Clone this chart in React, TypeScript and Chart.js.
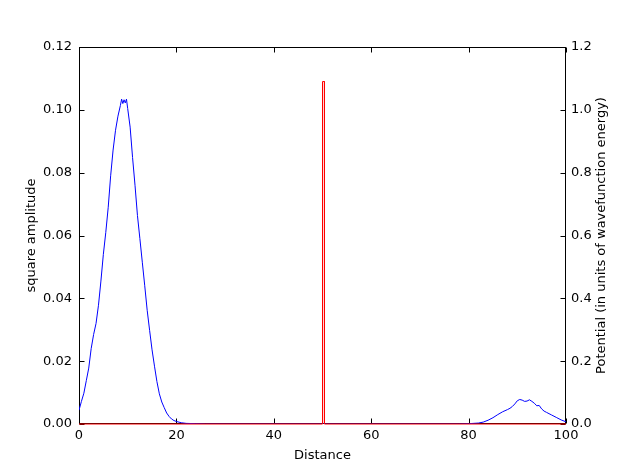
import React, { useEffect, useRef } from "react";
import { Chart, registerables } from "chart.js";
Chart.register(...registerables);

const packetX = [0, 0.5, 1, 1.5, 2, 2.5, 3, 3.5, 4, 4.5, 5, 5.5, 6, 6.5, 7, 7.5, 8, 8.5, 8.75, 9, 9.25, 9.5, 9.75, 10, 10.5, 11, 11.5, 12, 12.5, 13, 13.5, 14, 14.5, 15, 15.5, 16, 16.5, 17, 17.5, 18, 18.5, 19, 19.5, 20, 21, 22, 24, 26, 30, 40, 50, 60, 70, 78, 80, 82, 83, 84, 85, 86, 87, 88, 88.5, 89, 89.5, 90, 90.5, 91, 91.5, 92, 92.5, 93, 93.5, 94, 94.5, 95, 95.5, 96, 97, 98, 99, 100];
const packetY = [0.0044, 0.0072, 0.0098, 0.0138, 0.0178, 0.024, 0.0285, 0.032, 0.0378, 0.0455, 0.054, 0.061, 0.069, 0.079, 0.0872, 0.0935, 0.098, 0.1014, 0.1034, 0.102, 0.1032, 0.1022, 0.1034, 0.1004, 0.0945, 0.0848, 0.076, 0.0664, 0.059, 0.0515, 0.044, 0.0362, 0.0298, 0.0236, 0.0184, 0.0135, 0.0096, 0.007, 0.0052, 0.0035, 0.0024, 0.0016, 0.0011, 0.0008, 0.0004, 0.0002, 0.0001, 0, 0, 0, 0, 0, 0, 0, 0.0001, 0.0003, 0.0006, 0.0012, 0.002, 0.003, 0.0039, 0.0046, 0.005, 0.0056, 0.0064, 0.0074, 0.0078, 0.0076, 0.0072, 0.0073, 0.0077, 0.0072, 0.0066, 0.0058, 0.0059, 0.0048, 0.0041, 0.0037, 0.0029, 0.0021, 0.0013, 0.0007];

const potentialX = [0, 50, 50, 50.4, 50.4, 100];
const potentialY = [0, 0, 1.09, 1.09, 0, 0];

const xTicks = [0, 20, 40, 60, 80, 100];
const leftTicks = [0, 0.02, 0.04, 0.06, 0.08, 0.1, 0.12];
const rightTicks = [0, 0.2, 0.4, 0.6, 0.8, 1.0, 1.2];

const xTitle = "Distance";
const leftTitle = "square amplitude";
const rightTitle = "Potential (in units of wavefunction energy)";

const FONT = "DejaVu Sans";

const framePlugin = {
  id: "frameTicks",
  beforeDatasetsDraw(chart: any) {
    const { ctx, chartArea: a, scales } = chart;
    ctx.save();
    ctx.strokeStyle = "#000";
    ctx.lineWidth = 1;
    const L = Math.round(a.left) + 0.5, R = Math.round(a.right) - 0.5;
    const T = Math.round(a.top) + 0.5, B = Math.round(a.bottom) - 0.5;
    ctx.strokeRect(L, T, R - L, B - T);
    const len = 5;
    ctx.beginPath();
    for (const v of xTicks) {
      const px = Math.round(scales.x.getPixelForValue(v)) + 0.5;
      ctx.moveTo(px, B); ctx.lineTo(px, B - len);
      ctx.moveTo(px, T); ctx.lineTo(px, T + len);
    }
    for (const v of leftTicks) {
      const py = Math.round(scales.y.getPixelForValue(v)) + 0.5;
      ctx.moveTo(L, py); ctx.lineTo(L + len, py);
    }
    for (const v of rightTicks) {
      const py = Math.round(scales.y2.getPixelForValue(v)) + 0.5;
      ctx.moveTo(R, py); ctx.lineTo(R - len, py);
    }
    ctx.stroke();
    ctx.restore();
  },
  afterDraw(chart: any) {
    const { ctx, chartArea: a } = chart;
    ctx.save();
    ctx.fillStyle = "#000";
    ctx.font = `13px "${FONT}"`;
    ctx.textAlign = "center";
    ctx.textBaseline = "middle";
    ctx.translate(602, (a.top + a.bottom) / 2);
    ctx.rotate(-Math.PI / 2);
    ctx.fillText(rightTitle, 0, 0);
    ctx.restore();
  },
};

export default function App() {
  const ref = useRef<HTMLCanvasElement>(null);
  useEffect(() => {
    if (!ref.current) return;
    Chart.defaults.font.family = FONT;
    Chart.defaults.font.size = 13;
    Chart.defaults.color = "#000";
    const chart = new Chart(ref.current, {
      type: "line",
      data: {
        datasets: [
          {
            data: packetX.map((x, i) => ({ x, y: packetY[i] })),
            borderColor: "#0000ff",
            borderWidth: 1,
            pointRadius: 0,
            tension: 0,
            yAxisID: "y",
            order: 1,
          },
          {
            data: potentialX.map((x, i) => ({ x, y: potentialY[i] })),
            borderColor: "#ff0000",
            borderWidth: 1,
            pointRadius: 0,
            tension: 0,
            yAxisID: "y2",
            order: 0,
            clip: false,
          },
        ],
      },
      options: {
        animation: false,
        responsive: false,
        layout: { padding: { top: 47, left: 0, right: 0, bottom: 0 } },
        plugins: { legend: { display: false }, tooltip: { enabled: false } },
        scales: {
          x: {
            type: "linear",
            min: 0,
            max: 100,
            afterBuildTicks: (s: any) => { s.ticks = xTicks.map((v) => ({ value: v })); },
            afterFit: (s: any) => { s.height = 48; },
            grid: { display: false, drawTicks: false },
            border: { display: false },
            ticks: { padding: 4, maxRotation: 0, callback: (v: any) => String(v) },
            title: { display: true, text: xTitle, padding: { top: 0, bottom: 9 } },
          },
          y: {
            type: "linear",
            position: "left",
            min: 0,
            max: 0.12,
            afterBuildTicks: (s: any) => { s.ticks = leftTicks.map((v) => ({ value: v })); },
            afterFit: (s: any) => { s.width = 79; },
            grid: { display: false, drawTicks: false },
            border: { display: false },
            ticks: { padding: 7, callback: (v: any) => Number(v).toFixed(2) },
            title: { display: true, text: leftTitle, padding: { top: 24, bottom: 0 } },
          },
          y2: {
            type: "linear",
            position: "right",
            min: 0,
            max: 1.2,
            afterBuildTicks: (s: any) => { s.ticks = rightTicks.map((v) => ({ value: v })); },
            afterFit: (s: any) => { s.width = 63; },
            grid: { display: false, drawTicks: false },
            border: { display: false },
            ticks: { padding: 5, callback: (v: any) => Number(v).toFixed(1) },
          },
        },
      },
      plugins: [framePlugin],
    });
    return () => chart.destroy();
  }, []);
  return (
    <div style={{ position: "fixed", left: 0, top: 0, width: 629, height: 472, background: "#fff" }}>
      <canvas ref={ref} width={629} height={472} style={{ width: 629, height: 472 }} />
    </div>
  );
}
